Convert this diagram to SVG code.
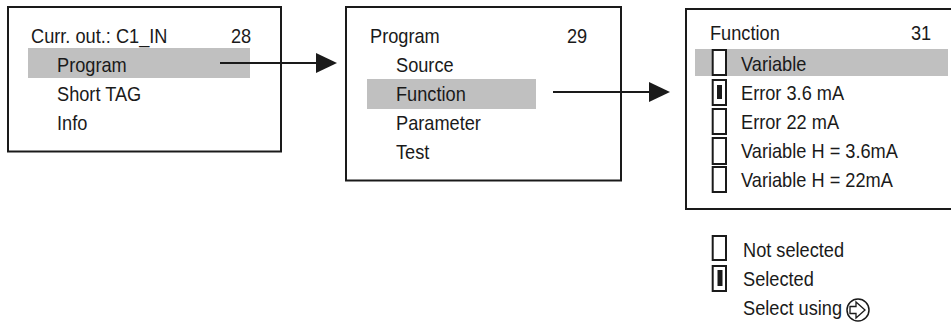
<svg xmlns="http://www.w3.org/2000/svg" width="951" height="324" viewBox="0 0 951 324">
<style>
.box{fill:#fff;stroke:#1a1a1a;stroke-width:2}
.hl{fill:#c0c0c0;stroke:none}
.t{font-family:"Liberation Sans",Arial,sans-serif;font-size:20px;fill:#1a1a1a}
.cb{fill:#fff;stroke:#1a1a1a;stroke-width:2}
.fill{fill:#1a1a1a}
.conn{stroke:#1a1a1a;stroke-width:2;fill:none}
</style>
<defs>
<marker id="ah" markerUnits="userSpaceOnUse" markerWidth="21" markerHeight="20" refX="0" refY="10" orient="auto">
<path d="M0,0 L21,10 L0,20 z" fill="#1a1a1a"/>
</marker>
</defs>
<rect width="951" height="324" fill="#fff"/>
<g id="menu28">
<rect class="box" x="8" y="7" width="273" height="144.5"/>
<rect class="hl" x="28" y="48" width="222" height="30"/>
<text class="t" transform="translate(31,43) scale(0.91,1)">Curr. out.: C1_IN</text>
<text class="t" transform="translate(231,43) scale(0.91,1)">28</text>
<text class="t" transform="translate(57,72) scale(0.91,1)">Program</text>
<text class="t" transform="translate(57,101) scale(0.91,1)">Short TAG</text>
<text class="t" transform="translate(57,130) scale(0.91,1)">Info</text>
</g>
<g id="menu29">
<rect class="box" x="346" y="7" width="275" height="173.5"/>
<rect class="hl" x="367" y="79" width="169" height="30"/>
<text class="t" transform="translate(370,43) scale(0.91,1)">Program</text>
<text class="t" transform="translate(567,43) scale(0.91,1)">29</text>
<text class="t" transform="translate(396,72) scale(0.91,1)">Source</text>
<text class="t" transform="translate(396,101) scale(0.91,1)">Function</text>
<text class="t" transform="translate(396,130) scale(0.91,1)">Parameter</text>
<text class="t" transform="translate(396,159) scale(0.91,1)">Test</text>
</g>
<g id="menu31">
<rect class="box" x="686" y="9" width="270" height="200"/>
<rect class="hl" x="695" y="49" width="253" height="27"/>
<text class="t" transform="translate(710,40) scale(0.91,1)">Function</text>
<text class="t" transform="translate(911,40) scale(0.91,1)">31</text>
<rect class="cb" x="712.7" y="50" width="13.3" height="25"/>
<rect class="cb" x="712.7" y="80" width="13.3" height="25"/>
<rect class="fill" x="717" y="85" width="5" height="14"/>
<rect class="cb" x="712.7" y="109" width="13.3" height="25"/>
<rect class="cb" x="712.7" y="138" width="13.3" height="26"/>
<rect class="cb" x="712.7" y="167" width="13.3" height="25"/>
<text class="t" transform="translate(741,71) scale(0.91,1)">Variable</text>
<text class="t" transform="translate(741,100) scale(0.91,1)">Error 3.6 mA</text>
<text class="t" transform="translate(741,129) scale(0.91,1)">Error 22 mA</text>
<text class="t" transform="translate(741,158) scale(0.91,1)">Variable H = 3.6mA</text>
<text class="t" transform="translate(741,187) scale(0.91,1)">Variable H = 22mA</text>
</g>
<g id="legend">
<rect class="cb" x="712.7" y="236" width="13.3" height="24"/>
<rect class="cb" x="712.7" y="266" width="13.3" height="25"/>
<rect class="fill" x="717.5" y="270" width="5" height="16"/>
<text class="t" transform="translate(743,257) scale(0.91,1)">Not selected</text>
<text class="t" transform="translate(743,286) scale(0.91,1)">Selected</text>
<text class="t" transform="translate(743,315) scale(0.91,1)">Select using</text>
<circle cx="858" cy="310" r="11" fill="#fff" stroke="#1a1a1a" stroke-width="1.5"/>
<path d="M850,306.5 L856,306.5 L856,302 L865,310 L856,318 L856,313.5 L850,313.5 z" fill="#fff" stroke="#1a1a1a" stroke-width="1.3" stroke-linejoin="miter"/>
</g>
<g id="connectors">
<line class="conn" x1="220" y1="63" x2="316" y2="63" marker-end="url(#ah)"/>
<line class="conn" x1="553" y1="92" x2="649" y2="92" marker-end="url(#ah)"/>
</g>
</svg>
